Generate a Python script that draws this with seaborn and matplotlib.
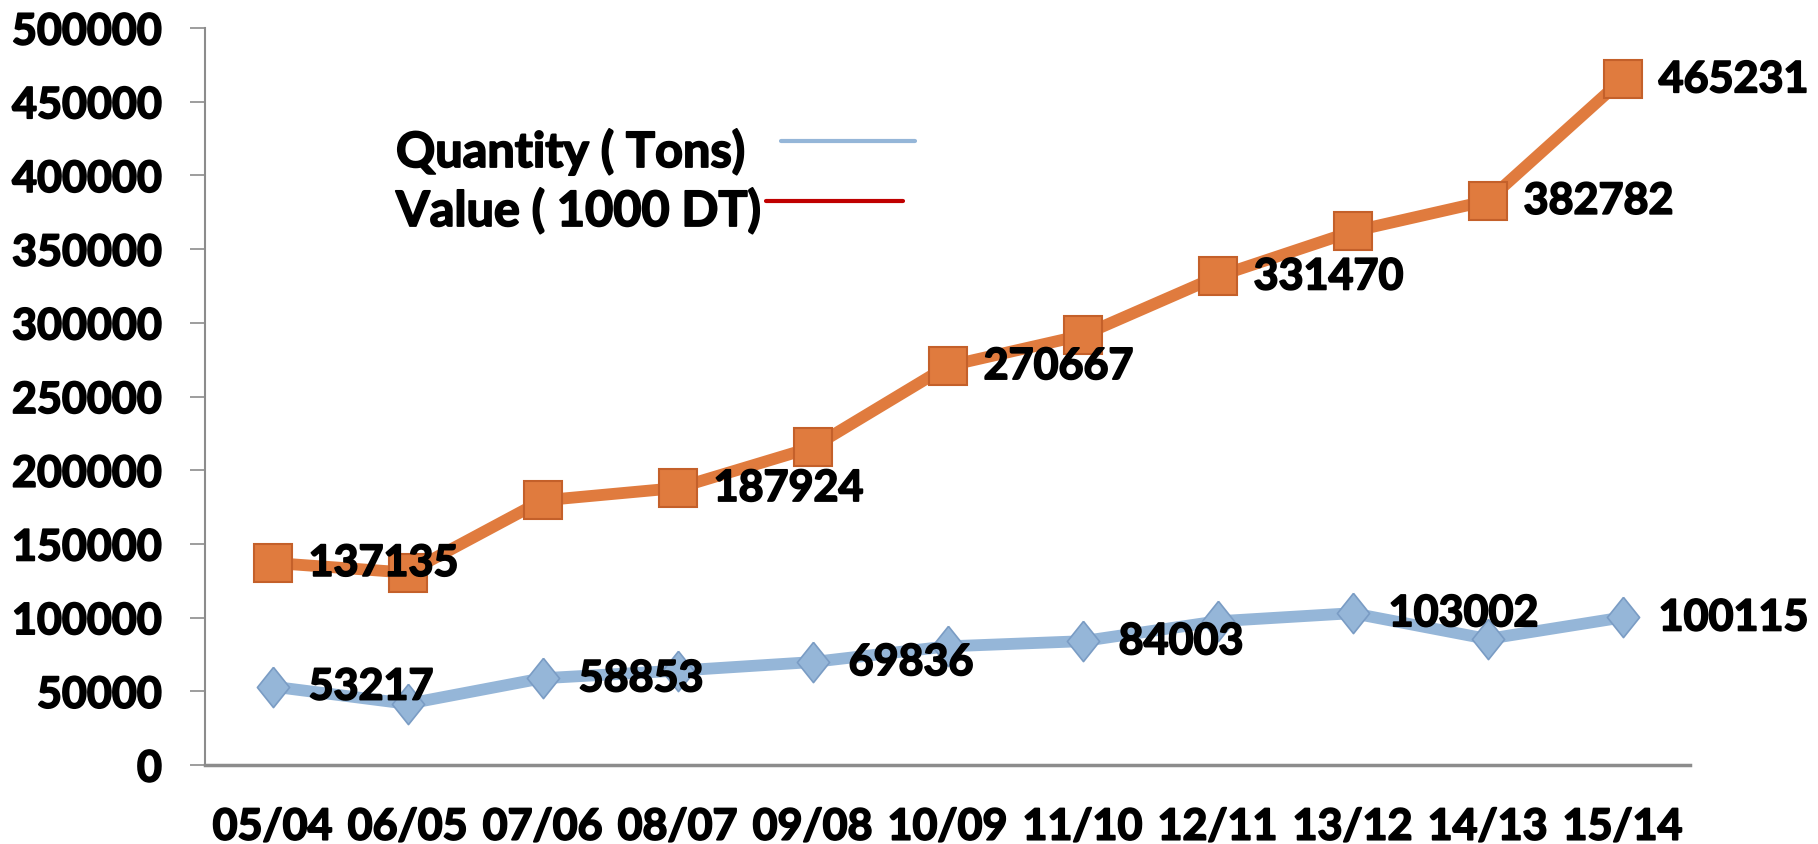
import matplotlib
matplotlib.use("Agg")
import matplotlib.pyplot as plt
import matplotlib.patheffects as pe
from matplotlib.lines import Line2D
import seaborn as sns
import pandas as pd
import numpy as np

categories = ["05/04", "06/05", "07/06", "08/07", "09/08", "10/09",
              "11/10", "12/11", "13/12", "14/13", "15/14"]
quantity = [53217, 41500, 58853, 64000, 69836, 80500, 84003, 97500, 103002, 85500, 100115]
value = [137135, 130500, 179500, 187924, 215500, 270667, 291500, 331470, 362000, 382782, 465231]
quantity_labeled = [0, 2, 4, 6, 8, 10]
value_labeled = [0, 3, 5, 7, 9, 10]
legend_labels = ["Quantity ( Tons)", "Value ( 1000 DT)"]
legend_colors = ["#95B6D8", "#C00000"]
yticks = [0, 50000, 100000, 150000, 200000, 250000, 300000, 350000, 400000, 450000, 500000]

sns.set_theme(style="white")
plt.rcParams["font.family"] = ["Lato", "DejaVu Sans"]
plt.rcParams["font.weight"] = "bold"
plt.rcParams["text.color"] = "black"

FS = 31
WT = "bold"
ORANGE = "#E07B3E"
BLUE = "#95B6D8"
W, H = 1818, 845
thick = [pe.withStroke(linewidth=1.3, foreground="black")]

fig = plt.figure(figsize=(W / 100, H / 100), dpi=100)
ax = fig.add_axes([205 / W, 1 - 766 / H, (1690 - 205) / W, (766 - 29) / H])

df = pd.DataFrame({"cat": categories, "quantity": quantity, "value": value})
diamond = [(0, 1), (0.8, 0), (0, -1), (-0.8, 0), (0, 1)]

sns.lineplot(data=df, x="cat", y="value", ax=ax, color=ORANGE, linewidth=8.5,
             marker="s", markersize=27, markerfacecolor=ORANGE,
             markeredgecolor="#C4602A", markeredgewidth=1.5, sort=False)
sns.lineplot(data=df, x="cat", y="quantity", ax=ax, color=BLUE, linewidth=8.5,
             marker=diamond, markersize=29, markerfacecolor=BLUE,
             markeredgecolor="#7A9CC4", markeredgewidth=1.2, sort=False)
for ln in ax.lines:
    ln.set_clip_on(False)

for i in value_labeled:
    ax.annotate(str(value[i]), (i, value[i]), xytext=(26, 0), textcoords="offset points",
                ha="left", va="center", fontsize=FS, fontweight=WT, color="black",
                annotation_clip=False, path_effects=thick)
for i in quantity_labeled:
    ax.annotate(str(quantity[i]), (i, quantity[i]), xytext=(26, 0), textcoords="offset points",
                ha="left", va="center", fontsize=FS, fontweight=WT, color="black",
                annotation_clip=False, path_effects=thick)

ax.set_xlim(-0.5, len(categories) - 0.5)
ax.set_ylim(0, 500000)
ax.set_yticks(yticks)
ax.set_yticklabels([str(t) for t in yticks], fontsize=FS, fontweight=WT)
ax.set_xticks(range(len(categories)))
ax.set_xticklabels(categories, fontsize=FS, fontweight=WT)
ax.set_xticks(np.arange(-0.5, len(categories), 1.0), minor=True)
for t in ax.get_xticklabels() + ax.get_yticklabels():
    t.set_path_effects(thick)
ax.tick_params(axis="x", which="major", length=0, pad=30, labelcolor="black")
ax.tick_params(axis="x", which="minor", length=11, width=1.2, color="#8C8C8C", direction="out")
ax.tick_params(axis="y", which="major", length=11, width=1.2, color="#8C8C8C", direction="out",
               pad=20, left=True, labelcolor="black")
ax.set_xlabel("")
ax.set_ylabel("")
ax.grid(False)
for s in ["top", "right"]:
    ax.spines[s].set_visible(False)
ax.spines["left"].set_color("#8C8C8C")
ax.spines["left"].set_linewidth(1.5)
ax.spines["bottom"].set_color("#8C8C8C")
ax.spines["bottom"].set_linewidth(2.5)

# legend: labels left-aligned, line handles to the right
leg_text_y = [168, 227]
leg_line_y = [142, 202]
leg_line_x = [(781, 915), (766, 903)]
for lab, col, ty, ly, (x0, x1) in zip(legend_labels, legend_colors, leg_text_y, leg_line_y, leg_line_x):
    fig.text(396 / W, 1 - ty / H, lab, ha="left", va="baseline", fontsize=35, fontweight=WT,
             color="black", path_effects=thick)
    fig.add_artist(Line2D([x0 / W, x1 / W], [1 - ly / H, 1 - ly / H], color=col,
                          linewidth=3, transform=fig.transFigure))

fig.savefig("out.png", dpi=100)
